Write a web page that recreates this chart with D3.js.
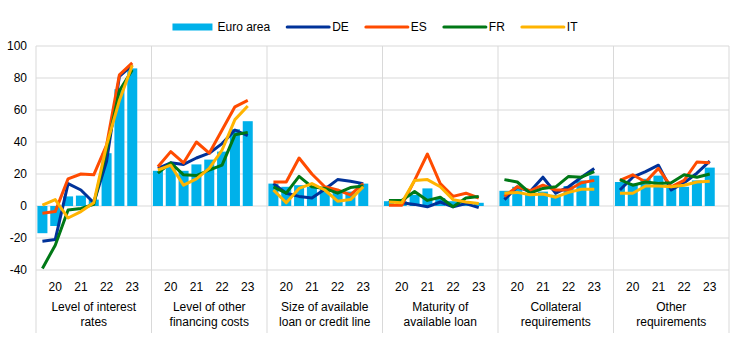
<!DOCTYPE html>
<html>
<head>
<meta charset="utf-8">
<script src="https://cdn.jsdelivr.net/npm/d3@7"></script>
<style>
  body { margin: 0; background: #fff; }
  text { font-family: "Liberation Sans", Arial, sans-serif; fill: #000; }
</style>
</head>
<body>
<svg id="chart"></svg>
<script>
const WIDTH = 744,
    HEIGHT = 351;

const margin = {
    top: 46,
    left: 36,
    right: 15,
    plotBottom: 270,
    sepBottom: 333
};

const categories = [
    ["Level of interest", "rates"],
    ["Level of other", "financing costs"],
    ["Size of available", "loan or credit line"],
    ["Maturity of", "available loan"],
    ["Collateral", "requirements"],
    ["Other", "requirements"]
];

const periods = ["2019H2", "2020H1", "2020H2", "2021H1", "2021H2", "2022H1", "2022H2", "2023H1"];
const yearLabels = { "2020H1": "20", "2021H1": "21", "2022H1": "22", "2023H1": "23" };

const yTicks = [-40, -20, 0, 20, 40, 60, 80, 100];

const euroArea = [
    [-17, -12.5, 6, 6.5, 4, 33, 73, 86],
    [22, 26, 22, 26, 29, 34, 48, 53],
    [14, 12, 13, 12, 11, 10, 9, 14],
    [3, 3, 7, 11, 5, 3, 3, 2],
    [9.5, 12, 7, 9, 7, 12.5, 16, 19],
    [15, 14, 17, 19, 12, 12, 16, 24]
];

const de = [
    [-22, -21, 14, 10, 2, 28, 81, 88],
    [23.5, 27, 26, 30, 33, 39, 47.5, 44],
    [14, 8, 6, 5, 10.5, 16.5, 15.5, 14],
    [3.5, 2, 1, -0.5, 2.5, -0.5, 1.5, -1],
    [4, 12, 9, 18, 8, 12, 18, 23.5],
    [10, 18, 21.5, 25.5, 10, 14.5, 20.5, 28]
];

const es = [
    [-4.5, -3.5, 17, 20, 19.5, 38, 82, 89.5],
    [24.5, 34, 27, 40, 33, 47.5, 62, 66],
    [15, 15, 30, 20, 12, 10, 7, 14],
    [0.5, 0.5, 16, 32.5, 14, 6, 8, 5],
    [6, 12, 9.5, 13, 10, 10, 14.5, 16],
    [16, 19.5, 15, 23.5, 12, 16, 27.5, 27]
];

const fr = [
    [-39, -24.5, -2.5, -1.5, 1, 35, 72, 85],
    [20.5, 27, 19.5, 19, 22.5, 25.5, 44.5, 46],
    [12, 8, 18.5, 12, 11, 8, 11.5, 12.5],
    [3.5, 3.5, 9, 3.5, 5.5, -0.5, 5, 6],
    [16.5, 15, 8, 11, 12, 18.5, 18, 21.5],
    [16.5, 13, 15, 14, 14.5, 19.5, 18, 20]
];

const it = [
    [0.5, 4, -7.5, -3.5, 2, 38, 66, 88],
    [22.5, 25.5, 13, 17, 23.5, 35, 54, 62.5],
    [10, 2, 11, 14, 10, 3, 4, 12],
    [2.5, 2, 16, 16.5, 12, 4, 2.5, 1.5],
    [8, 8.5, 7, 7.5, 5.5, 8.5, 10.5, 10.5],
    [8, 8, 12.5, 12.5, 12, 13, 15, 15.5]
];

const series = [
    { name: "DE", values: de, color: "#003299" },
    { name: "ES", values: es, color: "#ff4b00" },
    { name: "FR", values: fr, color: "#007816" },
    { name: "IT", values: it, color: "#ffb400" }
];
const barColor = "#00b1ea";
const gridColor = "#d9d9d9";

const svg = d3.select("#chart")
    .attr("width", WIDTH)
    .attr("height", HEIGHT);

const escalaPanel = d3.scaleBand()
    .domain(d3.range(categories.length))
    .range([margin.left, WIDTH - margin.right]);

const panelW = escalaPanel.bandwidth();

// 8 periods + one empty slot at the end of each panel
const escalaPeriodo = d3.scaleBand()
    .domain(periods)
    .range([0, panelW * periods.length / (periods.length + 1)])
    .paddingInner(0.22)
    .paddingOuter(0.11);

const escalaY = d3.scaleLinear()
    .domain([-40, 100])
    .range([margin.plotBottom, margin.top]);

// horizontal grid
svg.append("g")
    .selectAll("line")
    .data(yTicks)
    .join("line")
    .attr("x1", margin.left)
    .attr("x2", WIDTH - margin.right)
    .attr("y1", d => escalaY(d))
    .attr("y2", d => escalaY(d))
    .attr("stroke", gridColor)
    .attr("stroke-width", 1);

// vertical separators
svg.append("g")
    .selectAll("line")
    .data(d3.range(categories.length + 1))
    .join("line")
    .attr("x1", d => margin.left + d * panelW)
    .attr("x2", d => margin.left + d * panelW)
    .attr("y1", margin.top)
    .attr("y2", margin.sepBottom)
    .attr("stroke", gridColor)
    .attr("stroke-width", 1);

// y axis labels
svg.append("g")
    .selectAll("text")
    .data(yTicks)
    .join("text")
    .attr("x", 27)
    .attr("y", d => escalaY(d))
    .attr("dy", "0.35em")
    .attr("text-anchor", "end")
    .attr("font-size", 12)
    .text(d => d);

const paneles = svg.append("g")
    .selectAll("g")
    .data(categories)
    .join("g")
    .attr("transform", (d, i) => `translate(${escalaPanel(i)} 0)`);

// bars
paneles.each(function (cat, i) {
    const g = d3.select(this);
    g.selectAll("rect")
        .data(euroArea[i])
        .join("rect")
        .attr("x", (d, j) => escalaPeriodo(periods[j]))
        .attr("width", escalaPeriodo.bandwidth())
        .attr("y", d => escalaY(Math.max(0, d)))
        .attr("height", d => Math.abs(escalaY(d) - escalaY(0)))
        .attr("fill", barColor);

    const linea = d3.line()
        .x((d, j) => escalaPeriodo(periods[j]) + escalaPeriodo.bandwidth() / 2)
        .y(d => escalaY(d));

    series.forEach(s => {
        g.append("path")
            .attr("d", linea(s.values[i]))
            .attr("fill", "none")
            .attr("stroke", s.color)
            .attr("stroke-width", 3)
            .attr("stroke-linejoin", "round");
    });

    // year labels
    g.selectAll("text.year")
        .data(periods.filter(p => yearLabels[p]))
        .join("text")
        .attr("class", "year")
        .attr("x", p => escalaPeriodo(p) + escalaPeriodo.bandwidth() / 2)
        .attr("y", 287)
        .attr("dy", "0.35em")
        .attr("text-anchor", "middle")
        .attr("font-size", 12)
        .text(p => yearLabels[p]);

    // category label
    g.selectAll("text.cat")
        .data(cat)
        .join("text")
        .attr("class", "cat")
        .attr("x", panelW / 2)
        .attr("y", (d, k) => 307 + k * 15)
        .attr("dy", "0.35em")
        .attr("text-anchor", "middle")
        .attr("font-size", 12)
        .text(d => d);
});

// legend
const leyenda = svg.append("g");
const items = [{ name: "Euro area", color: barColor, bar: true }].concat(series);
let xPos = 0;
items.forEach(item => {
    const g = leyenda.append("g").attr("transform", `translate(${xPos} 0)`);
    if (item.bar) {
        g.append("rect")
            .attr("x", 0).attr("y", -3.5)
            .attr("width", 40).attr("height", 7)
            .attr("fill", item.color);
    } else {
        g.append("line")
            .attr("x1", 0).attr("x2", 42)
            .attr("stroke", item.color)
            .attr("stroke-width", 3)
            .attr("stroke-linecap", "round");
    }
    const t = g.append("text")
        .attr("x", 45)
        .attr("dy", "0.35em")
        .attr("font-size", 12)
        .text(item.name);
    xPos += 45 + t.node().getComputedTextLength() + 17;
});
const anchoLeyenda = xPos - 17;
leyenda.attr("transform", `translate(${375 - anchoLeyenda / 2} 27)`);
</script>
</body>
</html>
